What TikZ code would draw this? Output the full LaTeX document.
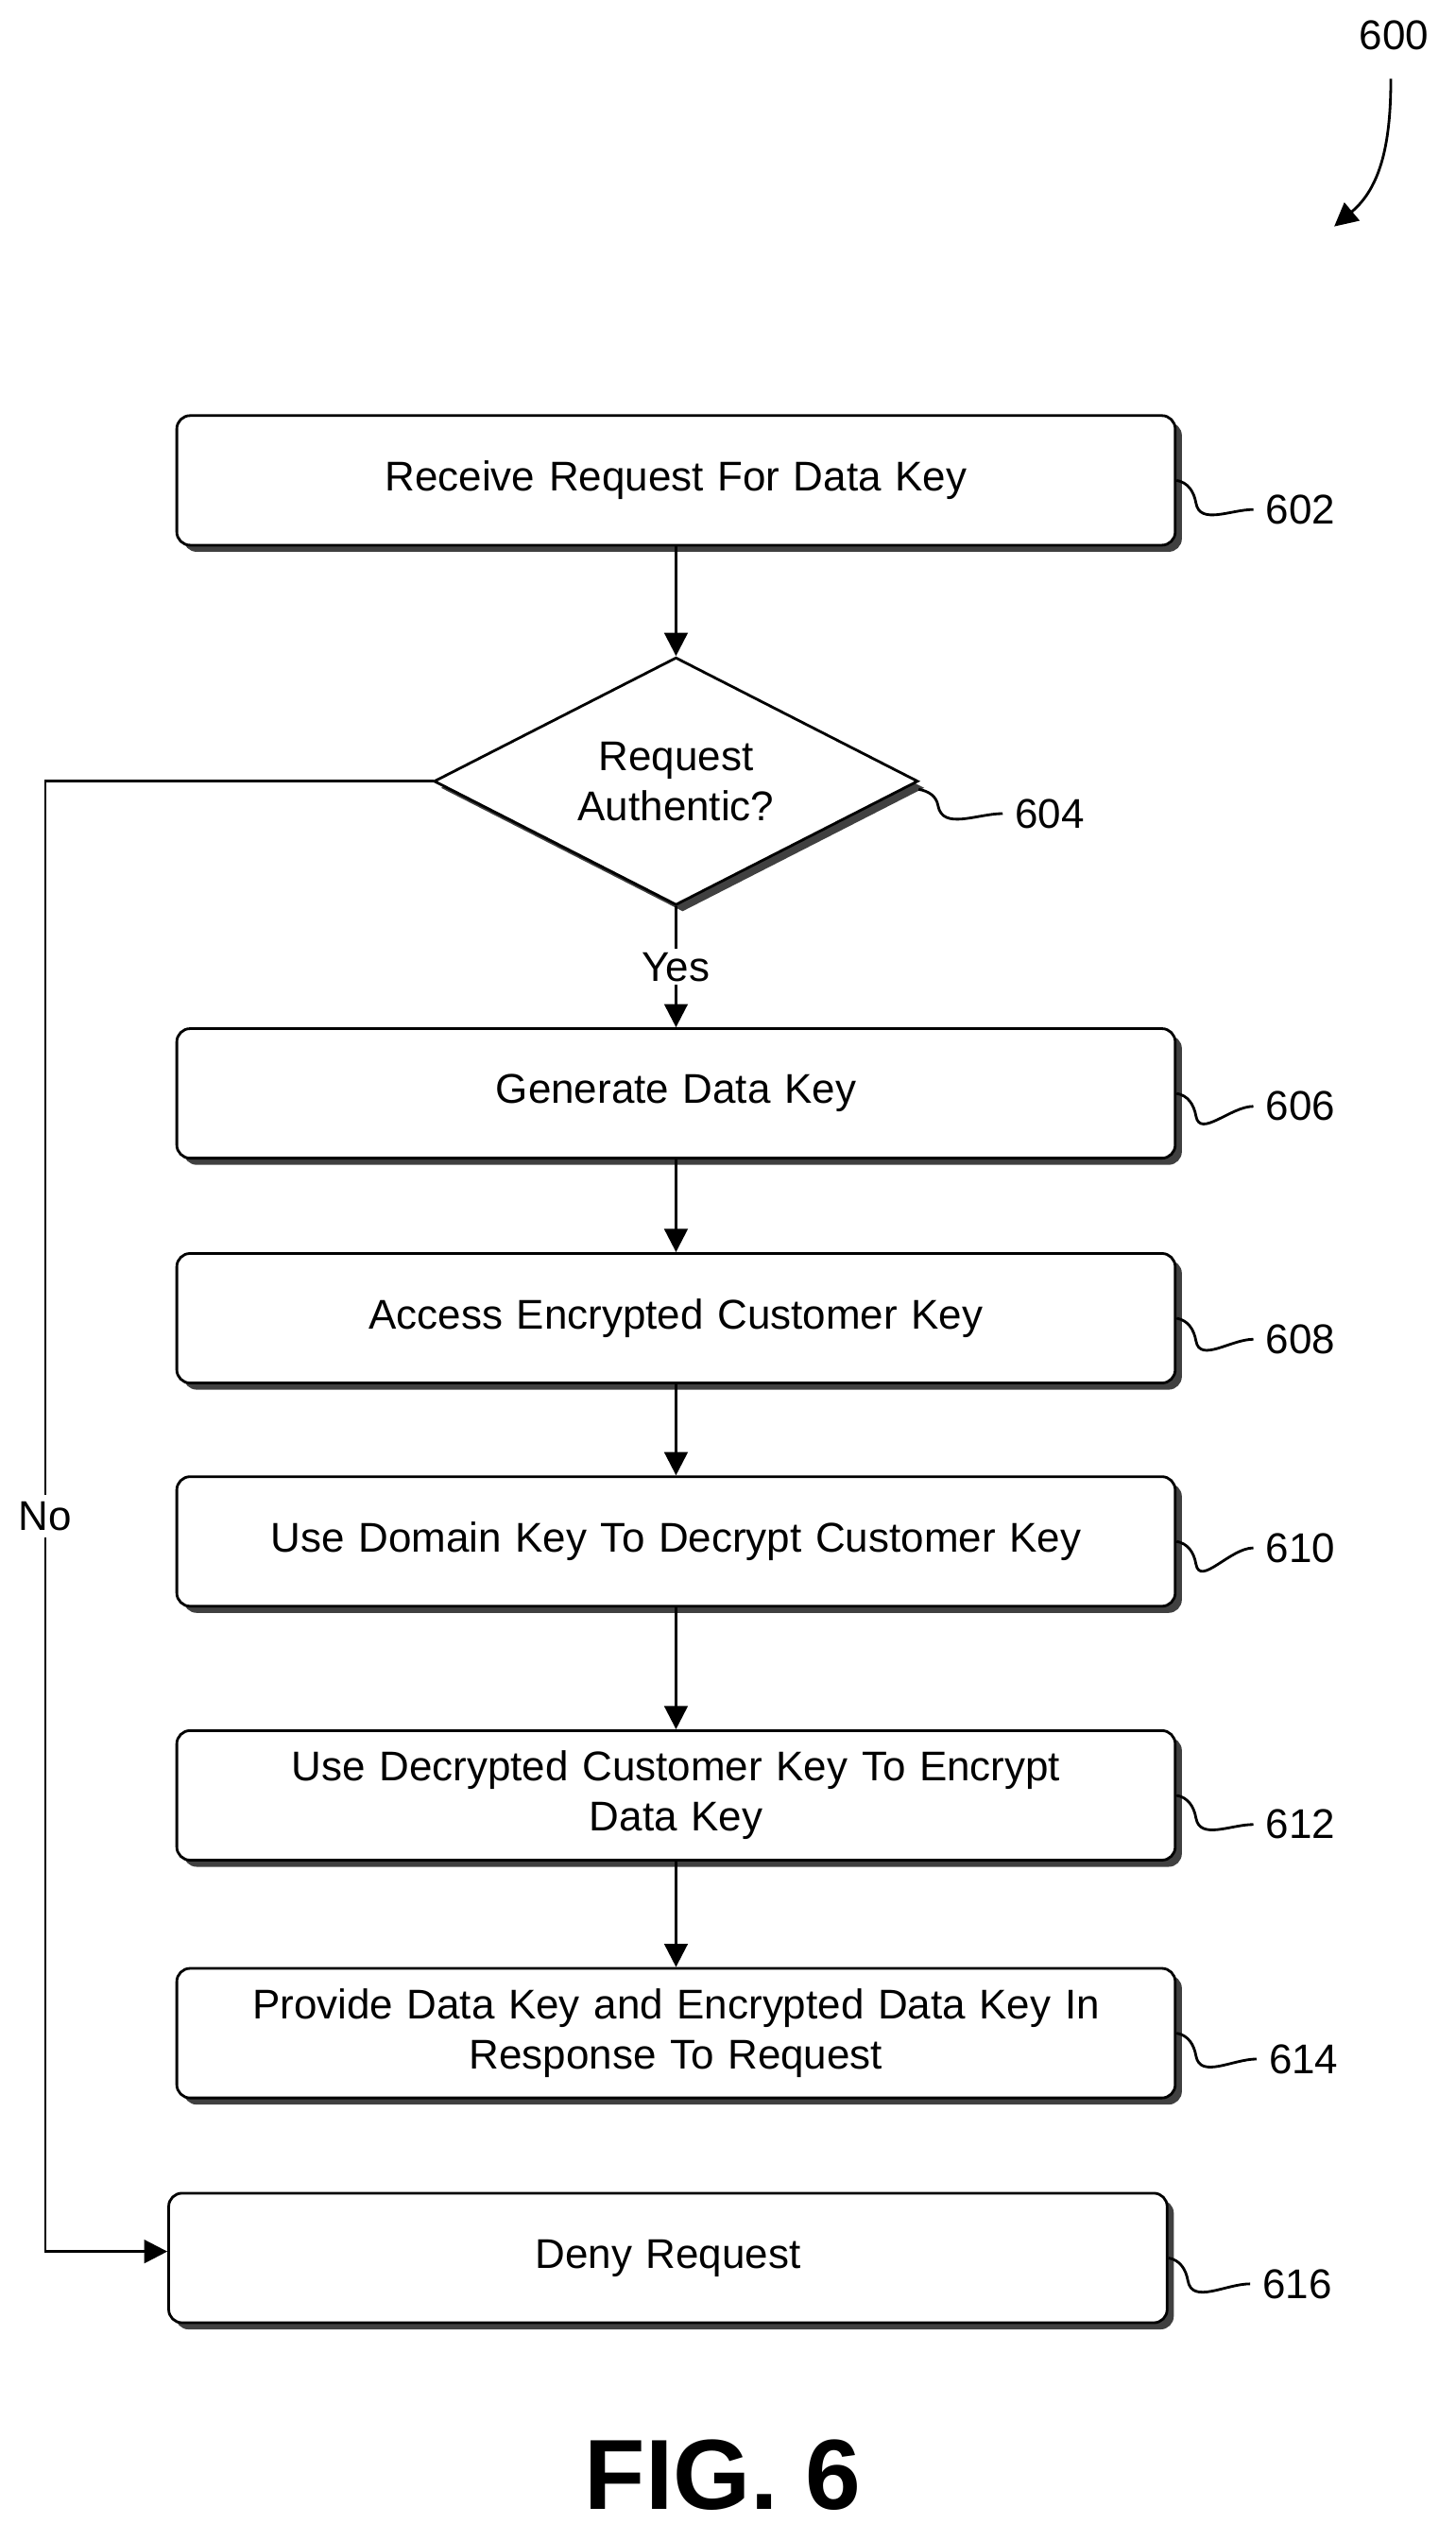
\documentclass[tikz,border=0pt]{standalone}
\usepackage{fontspec}
\setmainfont{Liberation Sans}
\usetikzlibrary{shapes.geometric,arrows.meta,shadows,positioning}
\tikzset{
    process/.style={
           rectangle, rounded corners=4pt,
           draw=black, thick, fill=white,
           minimum width=10.56cm,
           minimum height=1.37cm,
           text width=10.2cm, align=center,
           font=\fontsize{12.5}{15}\selectfont,
           drop shadow={shadow xshift=2pt, shadow yshift=-2pt, fill=black!75, opacity=1}
           },
    decide/.style={
           diamond, aspect=1.95, inner sep=1pt,
           draw=black, thick, fill=white,
           minimum width=5.12cm, minimum height=2.62cm,
           align=center,
           font=\fontsize{12.5}{15}\selectfont,
           drop shadow={shadow xshift=2pt, shadow yshift=-2pt, fill=black!75, opacity=1}
           },
    ref/.style={
           font=\fontsize{12.5}{15}\selectfont, anchor=west
           },
    lead/.style={thick}
}
\begin{document}
\begin{tikzpicture}[x=0.01711cm, y=-0.01711cm, >={Triangle[length=7pt,width=7pt]}, thick]
   \useasboundingbox (0,0) rectangle (900,1571);
   \node[process] (602) at (418,297) {Receive Request For Data Key};
   \node[decide] (604) at (418,483) {Request\\Authentic?};
   \node[process] (606) at (418,676) {Generate Data Key};
   \node[process] (608) at (418,815) {Access Encrypted Customer Key};
   \node[process] (610) at (418,953) {Use Domain Key To Decrypt Customer Key};
   \node[process] (612) at (418,1110) {Use Decrypted Customer Key To Encrypt\\Data Key};
   \node[process] (614) at (418,1257) {Provide Data Key and Encrypted Data Key In\\Response To Request};
   \node[process] (616) at (413,1396) {Deny Request};

   % reference numbers
   \node[ref] (l602) at (775,315) {602};
   \node[ref] (l604) at (620,503) {604};
   \node[ref] (l606) at (775,684) {606};
   \node[ref] (l608) at (775,828) {608};
   \node[ref] (l610) at (775,957) {610};
   \node[ref] (l612) at (775,1128) {612};
   \node[ref] (l614) at (777,1273) {614};
   \node[ref] (l616) at (773,1412) {616};
   \node[font=\fontsize{12.5}{15}\selectfont] (l600) at (862,22) {600};
   \coordinate (c600) at (825,140);
   \coordinate (n604) at (568,488);
   \coordinate (w604) at (268,483);
   \coordinate (bend) at (28,483);
   \coordinate (bend2) at (28,1392);

   \foreach \b in {602,606,608,610,612,614,616}
      \draw[lead] (\b.east) to[out=-10,in=100] ++(12,14) to[out=-80,in=180] (l\b.west);
   \draw[lead] (n604) to[out=-10,in=100] ++(12,10) to[out=-80,in=180] (l604.west);
   \draw[->] (l600.south) ++(-2,10) to[out=-90,in=40] (c600);

   \draw[->] (602) -- (604);
   \draw[->] (604) -- node[fill=white, font=\fontsize{12.5}{15}\selectfont, inner sep=1pt] {Yes} (606);
   \draw[->] (606) -- (608);
   \draw[->] (608) -- (610);
   \draw[->] (610) -- (612);
   \draw[->] (612) -- (614);
   \draw[->] (w604) -- (bend) -- node[fill=white, font=\fontsize{12.5}{15}\selectfont, inner sep=2pt] {No} (bend2) -- (616.west |- bend2);

   \node[font=\fontsize{30}{34}\bfseries\selectfont] (fig) at (447,1530) {FIG. 6};
\end{tikzpicture}
\end{document}
